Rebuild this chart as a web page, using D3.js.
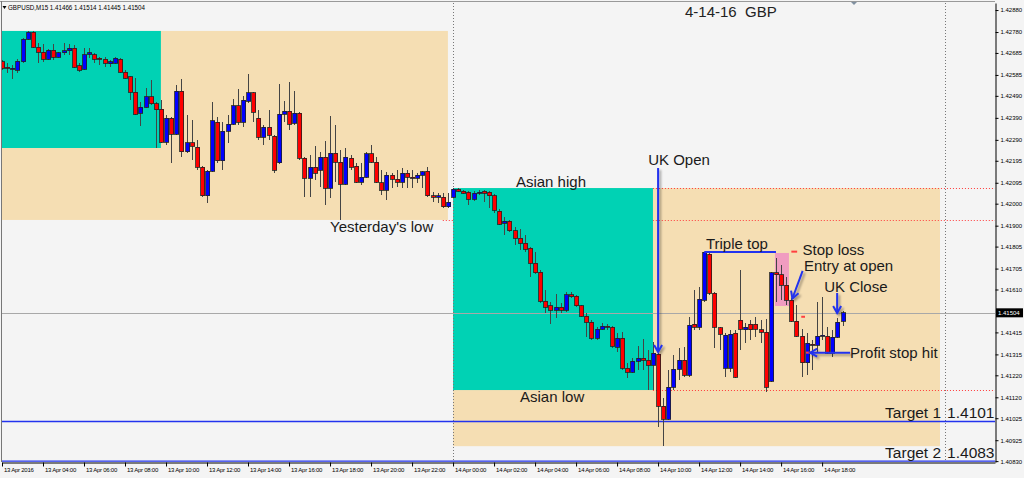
<!DOCTYPE html>
<html><head><meta charset="utf-8">
<script src="https://cdnjs.cloudflare.com/ajax/libs/d3/7.8.5/d3.min.js"></script>
<style>
html,body{margin:0;padding:0;background:#f4f4f4;}
svg{display:block;}
text{font-family:"Liberation Sans",Arial,sans-serif;}
</style></head><body>
<svg id="chart" width="1024" height="478"></svg>
<script>
// ---------------- DATA ----------------
const symbol = "GBPUSD,M15";
const chartTitle = "4-14-16  GBP";
const firstBar = "2016-04-13 02:00";
const viewStart = "2016-04-13 02:00";
const viewEnd = "2016-04-15 02:26";
const priceLow = 1.40826, priceHigh = 1.42912;

const opens = [
1.42644,1.42621,1.42612,1.42607,1.42644,1.42748,1.42780,1.42712,1.42689,1.42657,
1.42698,1.42666,1.42685,1.42694,1.42707,1.42626,1.42612,1.42680,1.42676,1.42662,
1.42657,1.42635,1.42639,1.42657,1.42598,1.42576,1.42507,1.42412,1.42439,1.42485,
1.42453,1.42430,1.42280,1.42389,1.42316,1.42512,1.42235,1.42276,1.42257,1.42166,
1.42035,1.42148,1.42371,1.42194,1.42330,1.42362,1.42444,1.42371,1.42466,1.42503,
1.42389,1.42303,1.42348,1.42307,1.42185,1.42407,1.42421,1.42366,1.42412,1.42207,
1.42116,1.42166,1.42153,1.42212,1.42071,1.42230,1.42189,1.42089,1.42207,1.42171,
1.42098,1.42121,1.42226,1.42189,1.42094,1.42062,1.42130,1.42112,1.42098,1.42139,
1.42121,1.42116,1.42130,1.42148,1.42035,1.42030,1.42030,1.41985,1.42030,1.42066,
1.42057,1.42053,1.42021,1.42048,1.42057,1.42053,1.42035,1.41966,1.41912,1.41921,
1.41876,1.41844,1.41821,1.41798,1.41730,1.41689,1.41557,1.41535,1.41516,1.41530,
1.41516,1.41585,1.41580,1.41535,1.41489,1.41462,1.41389,1.41430,1.41444,1.41439,
1.41348,1.41389,1.41253,1.41235,1.41285,1.41298,1.41289,1.41266,1.41316,1.41080,
1.41021,1.41166,1.41248,1.41289,1.41221,1.41453,1.41439,1.41562,1.41771,1.41594,
1.41435,1.41253,1.41253,1.41412,1.41471,1.41426,1.41453,1.41453,1.41426,1.41416,
1.41194,1.41685,1.41676,1.41630,1.41562,1.41466,1.41398,1.41276,1.41362,1.41357,
1.41398,1.41398,1.41321,1.41394,1.41466];

const highs = [
1.42653,1.42639,1.42630,1.42657,1.42753,1.42785,1.42785,1.42730,1.42726,1.42703,
1.42726,1.42689,1.42730,1.42726,1.42721,1.42639,1.42707,1.42707,1.42685,1.42666,
1.42666,1.42653,1.42666,1.42662,1.42607,1.42580,1.42571,1.42462,1.42526,1.42562,
1.42462,1.42471,1.42403,1.42394,1.42539,1.42566,1.42403,1.42380,1.42289,1.42171,
1.42153,1.42462,1.42394,1.42371,1.42403,1.42476,1.42521,1.42489,1.42589,1.42507,
1.42426,1.42357,1.42426,1.42312,1.42544,1.42466,1.42553,1.42512,1.42416,1.42212,
1.42221,1.42262,1.42235,1.42285,1.42398,1.42357,1.42244,1.42253,1.42221,1.42185,
1.42185,1.42235,1.42266,1.42212,1.42153,1.42144,1.42139,1.42153,1.42162,1.42153,
1.42153,1.42139,1.42148,1.42166,1.42053,1.42048,1.42048,1.42048,1.42071,1.42071,
1.42062,1.42057,1.42057,1.42062,1.42062,1.42057,1.42044,1.41976,1.41939,1.41926,
1.41894,1.41885,1.41857,1.41803,1.41780,1.41698,1.41607,1.41553,1.41589,1.41548,
1.41598,1.41598,1.41585,1.41539,1.41503,1.41471,1.41439,1.41457,1.41453,1.41444,
1.41412,1.41416,1.41276,1.41298,1.41353,1.41385,1.41335,1.41371,1.41321,1.41116,
1.41244,1.41312,1.41344,1.41348,1.41485,1.41607,1.41621,1.41780,1.41780,1.41598,
1.41439,1.41412,1.41426,1.41426,1.41698,1.41457,1.41471,1.41485,1.41471,1.41476,
1.41689,1.41753,1.41721,1.41666,1.41571,1.41539,1.41430,1.41412,1.41380,1.41553,
1.41576,1.41439,1.41426,1.41480,1.41514];

const lows = [
1.42607,1.42594,1.42566,1.42594,1.42639,1.42744,1.42707,1.42639,1.42644,1.42653,
1.42653,1.42662,1.42676,1.42676,1.42616,1.42598,1.42607,1.42662,1.42639,1.42630,
1.42621,1.42621,1.42635,1.42594,1.42566,1.42471,1.42403,1.42353,1.42435,1.42448,
1.42253,1.42276,1.42266,1.42185,1.42312,1.42212,1.42230,1.42198,1.42153,1.42030,
1.42003,1.42144,1.42185,1.42153,1.42276,1.42357,1.42357,1.42348,1.42457,1.42371,
1.42289,1.42266,1.42289,1.42139,1.42180,1.42371,1.42335,1.42357,1.42198,1.42030,
1.42030,1.42107,1.42076,1.41994,1.42026,1.42098,1.41926,1.42085,1.42153,1.42094,
1.42085,1.42116,1.42185,1.42094,1.42039,1.42016,1.42071,1.42076,1.42071,1.42071,
1.42071,1.42094,1.42071,1.42030,1.42007,1.42003,1.41980,1.41980,1.42026,1.42053,
1.42044,1.41994,1.42012,1.42039,1.42007,1.41980,1.41957,1.41903,1.41857,1.41871,
1.41812,1.41789,1.41780,1.41666,1.41680,1.41548,1.41503,1.41453,1.41480,1.41503,
1.41507,1.41571,1.41530,1.41485,1.41394,1.41380,1.41380,1.41426,1.41426,1.41344,
1.41326,1.41244,1.41207,1.41230,1.41244,1.41244,1.41153,1.41153,1.40985,1.40898,
1.41016,1.41153,1.41198,1.41212,1.41212,1.41426,1.41426,1.41553,1.41585,1.41344,
1.41335,1.41212,1.41235,1.41207,1.41335,1.41366,1.41380,1.41394,1.41366,1.41144,
1.41189,1.41553,1.41562,1.41539,1.41462,1.41394,1.41212,1.41221,1.41244,1.41321,
1.41380,1.41316,1.41303,1.41389,1.41445];

const closes = [
1.42616,1.42616,1.42616,1.42648,1.42748,1.42780,1.42712,1.42689,1.42657,1.42698,
1.42666,1.42685,1.42694,1.42707,1.42621,1.42607,1.42676,1.42685,1.42657,1.42657,
1.42639,1.42644,1.42662,1.42598,1.42571,1.42507,1.42407,1.42439,1.42485,1.42453,
1.42426,1.42280,1.42389,1.42316,1.42512,1.42235,1.42276,1.42262,1.42166,1.42035,
1.42148,1.42376,1.42194,1.42330,1.42362,1.42444,1.42371,1.42471,1.42503,1.42416,
1.42303,1.42348,1.42312,1.42153,1.42407,1.42421,1.42362,1.42412,1.42207,1.42116,
1.42166,1.42139,1.42212,1.42071,1.42230,1.42189,1.42089,1.42212,1.42166,1.42098,
1.42121,1.42226,1.42189,1.42098,1.42062,1.42130,1.42112,1.42098,1.42139,1.42121,
1.42116,1.42130,1.42144,1.42035,1.42030,1.42035,1.41985,1.42007,1.42066,1.42057,
1.42048,1.42021,1.42048,1.42053,1.42048,1.42035,1.41971,1.41907,1.41921,1.41876,
1.41844,1.41821,1.41794,1.41730,1.41685,1.41557,1.41530,1.41516,1.41530,1.41516,
1.41585,1.41576,1.41535,1.41489,1.41462,1.41389,1.41430,1.41444,1.41439,1.41353,
1.41389,1.41253,1.41235,1.41285,1.41298,1.41289,1.41266,1.41321,1.41080,1.41021,
1.41166,1.41248,1.41289,1.41221,1.41448,1.41439,1.41566,1.41780,1.41594,1.41439,
1.41407,1.41403,1.41407,1.41212,1.41430,1.41439,1.41426,1.41430,1.41416,1.41166,
1.41685,1.41676,1.41630,1.41562,1.41466,1.41398,1.41276,1.41366,1.41357,1.41398,
1.41403,1.41321,1.41394,1.41462,1.41504];

const priceTicks = [1.42880,1.42780,1.42685,1.42585,1.42490,1.42390,1.42290,1.42195,1.42095,1.42000,
  1.41900,1.41805,1.41705,1.41610,1.41415,1.41315,1.41220,1.41120,1.41025,1.40925,1.40830];

const timeTicks = ["2016-04-13 02:00","2016-04-13 04:00","2016-04-13 06:00","2016-04-13 08:00","2016-04-13 10:00",
  "2016-04-13 12:00","2016-04-13 14:00","2016-04-13 16:00","2016-04-13 18:00","2016-04-13 20:00","2016-04-13 22:00",
  "2016-04-14 00:00","2016-04-14 02:00","2016-04-14 04:00","2016-04-14 06:00","2016-04-14 08:00","2016-04-14 10:00",
  "2016-04-14 12:00","2016-04-14 14:00","2016-04-14 16:00","2016-04-14 18:00"];
const timeTickLabels = ["13 Apr 2016","13 Apr 04:00","13 Apr 06:00","13 Apr 08:00","13 Apr 10:00",
  "13 Apr 12:00","13 Apr 14:00","13 Apr 16:00","13 Apr 18:00","13 Apr 20:00","13 Apr 22:00",
  "14 Apr 00:00","14 Apr 02:00","14 Apr 04:00","14 Apr 06:00","14 Apr 08:00","14 Apr 10:00",
  "14 Apr 12:00","14 Apr 14:00","14 Apr 16:00","14 Apr 18:00"];

const daySeparators = ["2016-04-14 00:00","2016-04-15 00:00"];
const daySessions = [["2016-04-13 00:00","2016-04-13 23:45"],["2016-04-14 00:00","2016-04-14 23:45"]];
const asianSessions = [["2016-04-13 00:00","2016-04-13 09:45"],["2016-04-14 00:00","2016-04-14 09:45"]];
const levelStarts = ["2016-04-13 23:30","2016-04-14 09:45","2016-04-14 09:45"]; // yesterday low, asian high, asian low
const targets = [1.4101, 1.4083];

const stopZone = {start:"2016-04-14 15:42", end:"2016-04-14 16:23", high:1.41776, low:1.41535};
const tripleTop = {start:"2016-04-14 12:15", end:"2016-04-14 15:45", price:1.41780};
const redMarks = [
  {start:"2016-04-14 16:30", end:"2016-04-14 16:47", price:1.41782},
  {start:"2016-04-14 16:59", end:"2016-04-14 17:10", price:1.41486},
  {start:"2016-04-14 17:13", end:"2016-04-14 17:28", price:1.41323}];
const arrows = [
  {t1:"2016-04-14 10:00", p1:1.42162, t2:"2016-04-14 10:00", p2:1.41326},
  {t1:"2016-04-14 17:03", p1:1.41695, t2:"2016-04-14 16:33", p2:1.41569},
  {t1:"2016-04-14 18:44", p1:1.41594, t2:"2016-04-14 18:44", p2:1.41503},
  {t1:"2016-04-14 19:22", p1:1.41323, t2:"2016-04-14 17:25", p2:1.41323}];
const notes = [
  {text:"Yesterday's low", t:"2016-04-13 18:00", p:1.41871},
  {text:"Asian high", t:"2016-04-14 03:04", p:1.42076},
  {text:"UK Open", t:"2016-04-14 09:31", p:1.42176},
  {text:"Asian low", t:"2016-04-14 03:16", p:1.41098},
  {text:"Triple top", t:"2016-04-14 12:20", p:1.41792},
  {text:"Stop loss", t:"2016-04-14 17:03", p:1.41766},
  {text:"Entry at open", t:"2016-04-14 17:07", p:1.41695},
  {text:"UK Close", t:"2016-04-14 18:06", p:1.41600},
  {text:"Profit stop hit", t:"2016-04-14 19:22", p:1.41298}];

// ---------------- CHART ----------------
const svg = d3.select("#chart");
const parseT = d3.timeParse("%Y-%m-%d %H:%M");
const P = {l:2, r:995, t:3, b:462};
const x = d3.scaleTime().domain([parseT(viewStart), parseT(viewEnd)]).range([P.l, P.r]);
const y = d3.scaleLinear().domain([priceLow, priceHigh]).range([P.b, P.t]);
const X = s => x(parseT(s));
const BLUE = "#2233ee";

svg.append("rect").attr("width",1024).attr("height",478).attr("fill","#f4f4f4");
const defs = svg.append("defs");
defs.append("clipPath").attr("id","clip").append("rect")
  .attr("x",P.l).attr("y",P.t).attr("width",P.r-P.l).attr("height",P.b-P.t);
const flt = defs.append("filter").attr("id","shadow").attr("filterUnits","userSpaceOnUse")
  .attr("x",0).attr("y",0).attr("width",1024).attr("height",478);
flt.append("feDropShadow").attr("dx",2).attr("dy",2).attr("stdDeviation",1.3)
  .attr("flood-color","#000").attr("flood-opacity",0.35);
defs.append("marker").attr("id","ah").attr("viewBox","0 -5 10 10")
  .attr("refX",8).attr("refY",0).attr("markerWidth",10).attr("markerHeight",10)
  .attr("markerUnits","userSpaceOnUse").attr("orient","auto")
  .append("path").attr("d","M1,-4L8,0L1,4").attr("fill","none")
  .attr("stroke",BLUE).attr("stroke-width",2);

const t0 = parseT(firstBar);
const bars = opens.map((o,i)=>({t:d3.timeMinute.offset(t0,15*i), o, h:highs[i], l:lows[i], c:closes[i]}));
function stats(s,e){
  const a=parseT(s), b=parseT(e);
  const sel = bars.filter(d=>d.t>=a && d.t<=b);
  return {a, b, hi:d3.max(sel,d=>d.h), lo:d3.min(sel,d=>d.l)};
}
const days = daySessions.map(s=>stats(s[0],s[1]));
const asians = asianSessions.map(s=>stats(s[0],s[1]));

const G = svg.append("g").attr("clip-path","url(#clip)");
// day boxes
G.selectAll(".day").data(days).join("rect").attr("class","day")
  .attr("x",d=>x(d.a)).attr("width",d=>x(d.b)-x(d.a))
  .attr("y",d=>y(d.hi)).attr("height",d=>y(d.lo)-y(d.hi)).attr("fill","#f5deb3");
// level lines (dotted red)
const levels = [days[0].lo, asians[1].hi, asians[1].lo];
G.selectAll(".lvl").data(levels).join("line").attr("class","lvl")
  .attr("x1",(d,i)=>X(levelStarts[i])).attr("x2",P.r)
  .attr("y1",d=>Math.round(y(d))+0.5).attr("y2",d=>Math.round(y(d))+0.5)
  .attr("stroke","#ff3b3b").attr("stroke-width",1).attr("stroke-dasharray","1,2");
// asian boxes
G.selectAll(".asia").data(asians).join("rect").attr("class","asia")
  .attr("x",d=>x(d.a)).attr("width",d=>x(d.b)-x(d.a))
  .attr("y",d=>y(d.hi)).attr("height",d=>y(d.lo)-y(d.hi)).attr("fill","#00d2b4");
// stop zone
G.append("rect").attr("x",X(stopZone.start)).attr("width",X(stopZone.end)-X(stopZone.start))
  .attr("y",y(stopZone.high)).attr("height",y(stopZone.low)-y(stopZone.high)).attr("fill","#f09cc0");
// day separators
G.selectAll(".sep").data(daySeparators).join("line").attr("class","sep")
  .attr("x1",d=>Math.round(X(d))+0.5).attr("x2",d=>Math.round(X(d))+0.5)
  .attr("y1",P.t).attr("y2",P.b).attr("stroke","#777").attr("stroke-dasharray","1,2");
// current price line
const last = bars[bars.length-1];
G.append("line").attr("x1",P.l).attr("x2",P.r)
  .attr("y1",Math.round(y(last.c))+0.5).attr("y2",Math.round(y(last.c))+0.5)
  .attr("stroke","#a8a8a8").attr("stroke-width",1);
// targets
G.selectAll(".tgt").data(targets).join("line").attr("class","tgt")
  .attr("x1",P.l).attr("x2",P.r).attr("y1",d=>y(d)).attr("y2",d=>y(d))
  .attr("stroke",BLUE).attr("stroke-width",1.4);

// candles
const bw = 4;
const cg = G.append("g").attr("shape-rendering","crispEdges");
cg.selectAll(".wick").data(bars).join("line").attr("class","wick")
  .attr("x1",d=>Math.round(x(d.t))+0.5).attr("x2",d=>Math.round(x(d.t))+0.5)
  .attr("y1",d=>y(d.h)).attr("y2",d=>y(d.l)).attr("stroke","#444");
cg.selectAll(".body").data(bars).join("rect").attr("class","body")
  .attr("x",d=>Math.round(x(d.t))-1.5).attr("width",bw)
  .attr("y",d=>y(Math.max(d.o,d.c)))
  .attr("height",d=>Math.max(1,Math.abs(y(d.o)-y(d.c))))
  .attr("fill",d=>d.c>=d.o?"#0000ff":"#ff0000")
  .attr("stroke","#222").attr("stroke-width",0.8);

// annotations
const A = svg.append("g");
A.append("line").attr("x1",X(tripleTop.start)).attr("x2",X(tripleTop.end))
  .attr("y1",y(tripleTop.price)).attr("y2",y(tripleTop.price))
  .attr("stroke",BLUE).attr("stroke-width",2);
A.selectAll(".rm").data(redMarks).join("line").attr("class","rm")
  .attr("x1",d=>X(d.start)).attr("x2",d=>X(d.end)).attr("y1",d=>y(d.price)).attr("y2",d=>y(d.price))
  .attr("stroke","#ff4040").attr("stroke-width",2);
A.selectAll(".arr").data(arrows).join("line").attr("class","arr")
  .attr("x1",d=>X(d.t1)).attr("y1",d=>y(d.p1)).attr("x2",d=>X(d.t2)).attr("y2",d=>y(d.p2))
  .attr("stroke",BLUE).attr("stroke-width",2).attr("marker-end","url(#ah)")
  .attr("filter","url(#shadow)");
A.selectAll(".note").data(notes).join("text").attr("class","note")
  .attr("x",d=>X(d.t)).attr("y",d=>y(d.p)).text(d=>d.text)
  .attr("font-size",15).attr("fill","#1a1a1a");
// target labels
const tl = A.selectAll(".tl").data(targets).join("g").attr("class","tl");
tl.append("text").attr("x",X(daySeparators[1])-4).attr("y",d=>y(d)-3.5).attr("text-anchor","end")
  .attr("font-size",15.5).attr("fill","#1a1a1a").text((d,i)=>"Target "+(i+1));
tl.append("text").attr("x",P.r-0.5).attr("y",d=>y(d)-3.5).attr("text-anchor","end")
  .attr("font-size",15.5).attr("fill","#1a1a1a").text(d=>d.toFixed(4));

// title
svg.append("text").attr("x",685).attr("y",17).attr("font-size",15).attr("fill","#222")
  .style("white-space","pre").text(chartTitle);

// axes
const ya = svg.append("g").attr("transform",`translate(${P.r+0.5},0)`)
  .call(d3.axisRight(y).tickValues(priceTicks).tickFormat(d=>d.toFixed(5)).tickSize(3).tickSizeOuter(0).tickPadding(2));
ya.select(".domain").attr("stroke","#000");
ya.selectAll(".tick line").attr("stroke","#000");
ya.selectAll("text").attr("font-size",6).attr("fill","#000").attr("font-family","Liberation Sans");

const xa = svg.append("g").attr("transform",`translate(0,${P.b+0.5})`)
  .call(d3.axisBottom(x).tickValues(timeTicks.map(parseT)).tickFormat((d,i)=>timeTickLabels[i]).tickSize(4).tickSizeOuter(0));
xa.select(".domain").attr("stroke","#000");
xa.selectAll(".tick line").attr("stroke","#000");
xa.selectAll("text").attr("font-size",6).attr("fill","#000").attr("font-family","Liberation Sans")
  .attr("text-anchor","start").attr("x",1.5).attr("y",5.5).attr("dy","0.71em").attr("letter-spacing","-0.25");

// current price label
const cy = y(last.c);
svg.append("rect").attr("x",P.r+1).attr("y",cy-4.5).attr("width",27).attr("height",9).attr("fill","#000");
svg.append("text").attr("x",P.r+3).attr("y",cy+2.2).attr("font-size",6).attr("fill","#fff").text(last.c.toFixed(5));

// header
svg.append("path").attr("d","M2.5,6L6.5,6L4.5,9Z").attr("fill","#000");
svg.append("text").attr("x",8).attr("y",10).attr("font-size",6.5).attr("fill","#000")
  .attr("textLength",137).attr("lengthAdjust","spacingAndGlyphs")
  .text(`${symbol}  ${last.o.toFixed(5)} ${last.h.toFixed(5)} ${last.l.toFixed(5)} ${last.c.toFixed(5)}`);
svg.append("path").attr("d","M851,2L857,2L854,5Z").attr("fill","#8090a0");
// frame
svg.append("line").attr("x1",0).attr("x2",P.r).attr("y1",1.5).attr("y2",1.5).attr("stroke","#999");
svg.append("line").attr("x1",1.5).attr("x2",1.5).attr("y1",1).attr("y2",P.b).attr("stroke","#777");
</script>
</body></html>
